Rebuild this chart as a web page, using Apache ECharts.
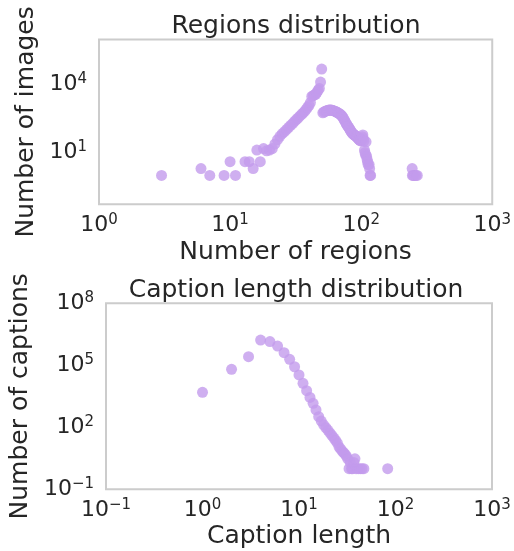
<!DOCTYPE html>
<html><head><meta charset="utf-8">
<script src="https://cdn.jsdelivr.net/npm/echarts@6/dist/echarts.min.js"></script>
<style>html,body{margin:0;padding:0;background:#fff}#c{width:514px;height:551px}</style>
</head><body><div id="c"></div>
<script>
// ---- data (raw values, plotted on log10 scales) ----
const regionCounts = [3,6,7,9,10,11,13,14,15,16,17,18,19,20,21,22,23,24,25,26,27,28,29,30,31,32,33,34,35,36,37,38,39,40,41,42,43,44,45,46,47,48,49,50,51,52,53,54,55,56,57,58,59,60,61,62,63,64,65,66,67,68,69,70,71,72,73,74,75,76,77,78,79,80,81,82,83,84,85,86,87,88,89,90,91,92,93,94,95,96,97,98,99,100,101,102,103,104,105,106,107,108,109,110,111,112,113,115,116,117,118,245,246,250,256,262,268];
const imageCounts = [1,2,1,1,4,1,4,4,2,13,4,15,12,13,15,24,37,52,68,83,105,129,158,190,234,282,331,398,468,550,646,794,977,1175,1585,2950,3160,3470,3630,4470,5500,6600,12600,46800,562,603,646,676,708,724,741,741,741,724,708,676,661,631,603,575,550,513,490,457,417,380,331,288,251,214,186,162,145,132,117,107,93,83,76,69,65,62,59,56,54,51,48,45,42,38,36,35,33,40,35,50,60,40,32,13,10,8,30,7,5,4,3,3,2,1,1,2,1,1,1,1,1];
const captionLengths = [1,2,3,4,5,6,7,8,9,10,11,12,13,14,15,16,17,18,19,20,21,22,23,24,25,26,27,28,29,30,31,32,33,34,35,36,37,38,39,41,43,45,47,83];
const captionCounts = [4900,64000,262000,1670000,1400000,850000,410000,195000,85000,34000,13500,5900,2800,1450,690,325,200,132,95,71,52,40,30,23,17,11,9,7,6,5,4,3,1,2,1,1,2,3,1,1,1,1,1,1];
const regionXTickExps = [0,1,2,3];
const imageYTickExps = [1,4];
const captionXTickExps = [-1,0,1,2,3];
const captionYTickExps = [-1,2,5,8];
const titles = ['Regions distribution','Caption length distribution'];
const xNames = ['Number of regions','Caption length'];
const yNames = ['Number of images','Number of captions'];

const FONT = 'DejaVu Sans';
const TXT = '#262626';
const sup = n => { n = Math.round(n); return n < 0 ? '\u2212' + (-n) : String(n); };
const tickLabel = (exps, margin) => ({
  customValues: exps,
  margin: margin,
  formatter: v => '{b|10}{s|' + sup(v) + '}',
  rich: {
    b: {fontSize: 22, lineHeight: 26, fontFamily: FONT, color: TXT, verticalAlign: 'middle'},
    s: {fontSize: 15, lineHeight: 15, fontFamily: FONT, color: TXT, verticalAlign: 'top'}
  }
});
const nameStyle = {fontSize: 25, fontFamily: FONT, color: TXT};
const toPairs = (xs, ys) => xs.map((x, i) => [Math.log10(x), Math.log10(ys[i])]);
const axisCommon = {
  type: 'value', axisLine: {show: false}, axisTick: {show: false}, splitLine: {show: false}
};

const chart = echarts.init(document.getElementById('c'), null, {renderer: 'canvas'});
chart.setOption({
  animation: false,
  backgroundColor: '#ffffff',
  title: [
    {text: titles[0], left: 296, top: 14, textAlign: 'center', padding: 0,
     textStyle: {fontSize: 25, fontWeight: 'normal', fontFamily: FONT, color: TXT}},
    {text: titles[1], left: 296, top: 278, textAlign: 'center', padding: 0,
     textStyle: {fontSize: 25, fontWeight: 'normal', fontFamily: FONT, color: TXT}}
  ],
  grid: [
    {left: 99, top: 39.5, right: 21.5, bottom: 346.7, show: true, borderColor: '#cccccc', borderWidth: 2, backgroundColor: 'transparent'},
    {left: 101.7, top: 303.3, right: 22, bottom: 61.7, show: true, borderColor: '#cccccc', borderWidth: 2, backgroundColor: 'transparent'}
  ],
  xAxis: [
    Object.assign({}, axisCommon, {gridIndex: 0, min: 0, max: 3,
      axisLabel: tickLabel(regionXTickExps, 8),
      name: xNames[0], nameLocation: 'middle', nameGap: 36, nameTextStyle: nameStyle}),
    Object.assign({}, axisCommon, {gridIndex: 1, min: -1, max: 3,
      axisLabel: tickLabel(captionXTickExps, 8),
      name: xNames[1], nameLocation: 'middle', nameGap: 35, nameTextStyle: nameStyle})
  ],
  yAxis: [
    Object.assign({}, axisCommon, {gridIndex: 0, min: -1.27, max: 5.97,
      axisLabel: tickLabel(imageYTickExps, 12),
      name: yNames[0], nameLocation: 'middle', nameGap: 41, nameTextStyle: nameStyle}),
    Object.assign({}, axisCommon, {gridIndex: 1, min: -1, max: 8,
      axisLabel: tickLabel(captionYTickExps, 12),
      name: yNames[1], nameLocation: 'middle', nameGap: 64, nameTextStyle: nameStyle})
  ],
  series: [
    {type: 'scatter', xAxisIndex: 0, yAxisIndex: 0, symbol: 'circle', symbolSize: 11,
     itemStyle: {color: '#c39bec', opacity: 0.8}, data: toPairs(regionCounts, imageCounts)},
    {type: 'scatter', xAxisIndex: 1, yAxisIndex: 1, symbol: 'circle', symbolSize: 11,
     itemStyle: {color: '#c39bec', opacity: 0.8}, data: toPairs(captionLengths, captionCounts)}
  ]
});
</script>
</body></html>
